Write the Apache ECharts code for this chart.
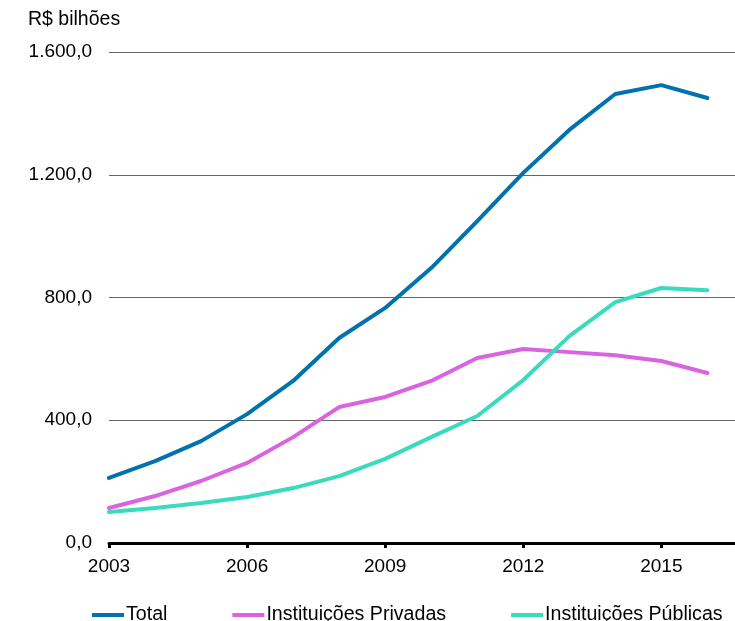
<!DOCTYPE html>
<html>
<head>
<meta charset="utf-8">
<script src="https://cdn.jsdelivr.net/npm/echarts@6/dist/echarts.min.js"></script>
<style>
  html, body { margin: 0; padding: 0; background: #fff; }
  #chart { width: 735px; height: 621px; }
</style>
</head>
<body>
<div id="chart"></div>
<script>
// Anos e valores (R$ bilhões)
const years = [2003, 2004, 2005, 2006, 2007, 2008, 2009, 2010, 2011, 2012, 2013, 2014, 2015, 2016];
const total = [212, 267, 332, 420, 528, 668, 766, 896, 1049, 1206, 1346, 1463, 1492, 1450];
const privadas = [114, 153, 202, 261, 345, 443, 476, 528, 603, 632, 622, 612, 593, 554];
const publicas = [101, 114, 130, 150, 179, 218, 274, 345, 414, 531, 674, 785, 831, 824];
const yearTicks = [2003, 2006, 2009, 2012, 2015];
const yTicks = [0, 400, 800, 1200, 1600];

const FONT = '"Liberation Sans", Arial, sans-serif';

function pairs(vals) {
  return years.map((y, i) => [y, vals[i]]);
}

// Formato brasileiro: 1.600,0
function fmtBR(v) {
  const parts = v.toFixed(1).split('.');
  const intPart = parts[0].replace(/\B(?=(\d{3})+(?!\d))/g, '.');
  return intPart + ',' + parts[1];
}

const chart = echarts.init(document.getElementById('chart'), null, { renderer: 'canvas' });

const lineStyle = (color) => ({ color: color, width: 4, cap: 'round', join: 'round' });

chart.setOption({
  animation: false,
  backgroundColor: '#ffffff',
  textStyle: { fontFamily: FONT },
  graphic: [{
    type: 'text',
    left: 28,
    top: 10,
    style: { text: 'R$ bilhões', font: '19.5px ' + FONT, fill: '#000' }
  }],
  legend: {
    bottom: -4,
    left: 92,
    width: 700,
    padding: 0,
    itemWidth: 32,
    itemHeight: 4,
    itemGap: 65,
    icon: 'rect',
    textStyle: { fontSize: 19.6, color: '#000', fontFamily: FONT, padding: [0, 0, 0, -3] },
    data: ['Total', 'Instituições Privadas', 'Instituições Públicas']
  },
  grid: { left: 109, right: 0, top: 52, bottom: 78 },
  xAxis: {
    type: 'value',
    min: 2003,
    max: 2016.6,
    splitLine: { show: false },
    axisLine: { show: true, lineStyle: { color: '#000', width: 3 } },
    axisTick: { show: true, customValues: yearTicks, length: 5, lineStyle: { color: '#000', width: 3 } },
    axisLabel: {
      customValues: yearTicks,
      fontSize: 19,
      color: '#000',
      margin: 14,
      fontFamily: FONT,
      formatter: (v) => String(v)
    }
  },
  yAxis: {
    type: 'value',
    min: 0,
    max: 1600,
    interval: 400,
    axisLine: { show: false },
    axisTick: { show: false },
    splitLine: { show: true, lineStyle: { color: '#666', width: 1 } },
    axisLabel: {
      customValues: yTicks,
      fontSize: 19,
      color: '#000',
      margin: 17,
      fontFamily: FONT,
      formatter: (v) => fmtBR(v)
    }
  },
  series: [
    { name: 'Total', type: 'line', data: pairs(total), showSymbol: false, symbol: 'none',
      color: '#0073AE', lineStyle: lineStyle('#0073AE'), z: 3 },
    { name: 'Instituições Privadas', type: 'line', data: pairs(privadas), showSymbol: false, symbol: 'none',
      color: '#DA64DF', lineStyle: lineStyle('#DA64DF'), z: 2 },
    { name: 'Instituições Públicas', type: 'line', data: pairs(publicas), showSymbol: false, symbol: 'none',
      color: '#3ADBBD', lineStyle: lineStyle('#3ADBBD'), z: 2 }
  ]
});
</script>
</body>
</html>
